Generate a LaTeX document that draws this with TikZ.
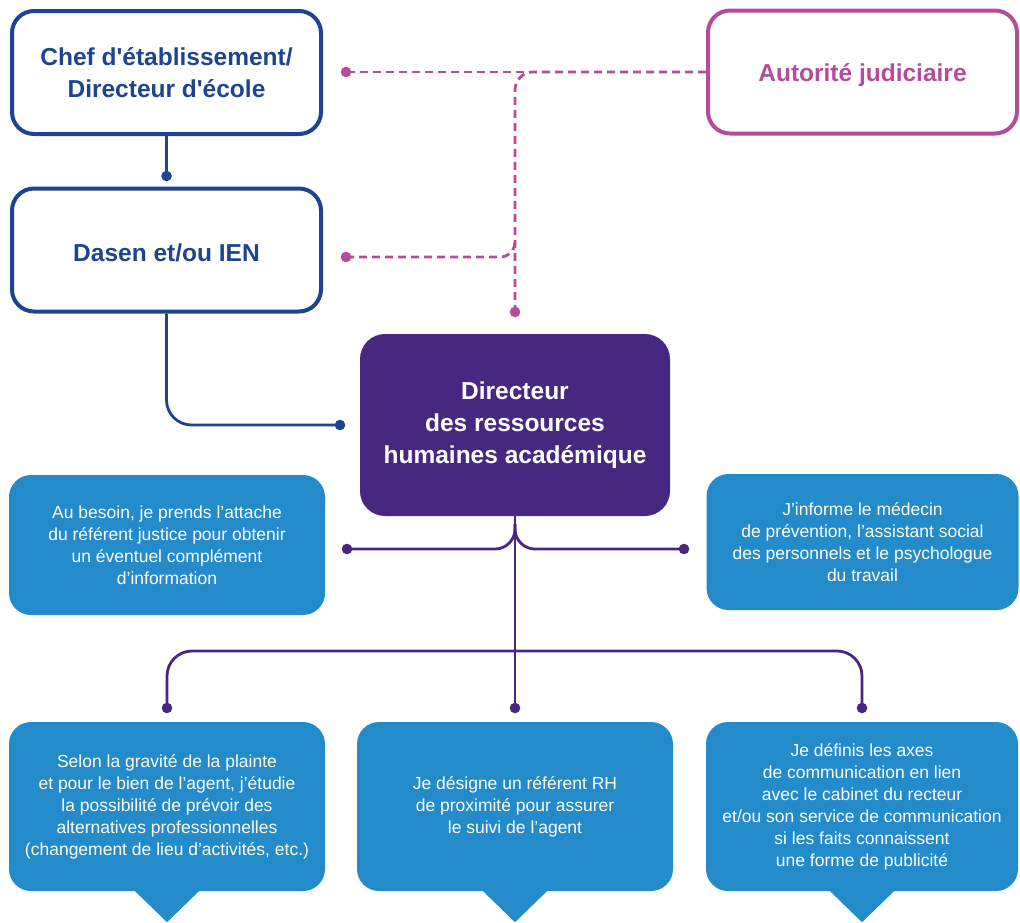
\documentclass[tikz,border=0pt]{standalone}
\usepackage{fontspec}
\setmainfont{Liberation Sans}[Ligatures=TeXOff]
\definecolor{marine}{RGB}{30,68,143}
\definecolor{rose}{RGB}{180,76,153}
\definecolor{pourpre}{RGB}{72,39,128}
\definecolor{bleu}{RGB}{35,139,202}
\begin{document}
\begin{tikzpicture}[x=1pt,y=-1pt]
\tikzstyle{every node}+=[inner sep=0pt, align=center]
\tikzstyle{cadre}=[draw, line width=4pt, rounded corners=22pt, fill=white, minimum width=309pt, minimum height=123pt, font=\fontsize{24.5}{32}\selectfont\bfseries]
\tikzstyle{pave}=[fill=bleu, text=white, rounded corners=22pt, font=\fontsize{17.5}{22}\selectfont]
\tikzstyle{lien}=[line width=2.8pt]
\tikzstyle{pointille}=[lien, rose, dash pattern=on 8pt off 5pt]
\useasboundingbox (0,0) rectangle (1020,922);
\node (chef) at (166.5,72.5) [cadre, draw=marine, text=marine] {Chef d'établissement/\\Directeur d'école};
\node (dasen) at (166.5,250) [cadre, draw=marine, text=marine] {\raisebox{-3pt}[\height][\depth]{Dasen et/ou IEN}};
\node (autorite) at (862.5,72) [cadre, draw=rose, text=rose] {\raisebox{-3pt}[\height][\depth]{Autorité judiciaire}};
\node (drh) at (515,425) [fill=pourpre, text=white, rounded corners=25pt, minimum width=310pt, minimum height=182pt, font=\fontsize{24.5}{32}\selectfont\bfseries] {Directeur\\des ressources\\humaines académique};
\node (besoin) at (167,545) [pave, minimum width=316pt, minimum height=140pt] {Au besoin, je prends l’attache\\du référent justice pour obtenir\\un éventuel complément\\d’information};
\node (informe) at (862.5,542) [pave, minimum width=312pt, minimum height=136pt] {J’informe le médecin\\de prévention, l’assistant social\\des personnels et le psychologue\\du travail};
\node (selon) at (167,806.5) [pave, minimum width=316pt, minimum height=169pt] {Selon la gravité de la plainte\\et pour le bien de l’agent, j’étudie\\la possibilité de prévoir des\\alternatives professionnelles\\(changement de lieu d’activités, etc.)};
\node (designe) at (515,806.5) [pave, minimum width=316pt, minimum height=169pt] {Je désigne un référent RH\\de proximité pour assurer\\le suivi de l’agent};
\node (definis) at (862,806.5) [pave, minimum width=312pt, minimum height=169pt] {Je définis les axes\\de communication en lien\\avec le cabinet du recteur\\et/ou son service de communication\\si les faits connaissent\\une forme de publicité};
\foreach \n in {selon,designe,definis}
  \fill [bleu] ([xshift=-33pt,yshift=1pt]\n.south) -- ([yshift=-31pt]\n.south) -- ([xshift=33pt,yshift=1pt]\n.south) -- cycle;
\coordinate (p1) at (166.5,176);
\coordinate (p2) at (340,425);
\draw [lien, marine] (chef.south) -- (p1);
\draw [lien, marine, rounded corners=25pt] (dasen.south) |- (p2);
\fill [marine] (p1) circle (5.3pt) (p2) circle (5.3pt);
\coordinate (m1) at (346,72);
\coordinate (m2) at (346,257);
\coordinate (m3) at (515,312);
\coordinate (m4) at (515,238);
\draw [pointille] (autorite.west) -- (m1);
\draw [pointille, rounded corners=18pt] (autorite.west) -| (m3);
\draw [pointille, rounded corners=15pt] (m2) -| (m4);
\fill [rose] (m1) circle (5.3pt) (m2) circle (5.3pt) (m3) circle (5.3pt);
\coordinate (q0) at (515,708);
\coordinate (g) at (347,549);
\coordinate (d) at (684,549);
\coordinate (bt) at (515,524);
\coordinate (hg) at (167,651);
\coordinate (hd) at (862,651);
\coordinate (qg) at (167,708);
\coordinate (qd) at (862,708);
\draw [lien, pourpre] (drh.south) -- (q0);
\draw [lien, pourpre, rounded corners=20pt] (g) -| (bt);
\draw [lien, pourpre, rounded corners=20pt] (d) -| (bt);
\draw [lien, pourpre, rounded corners=25pt] (qg) -- (hg) -- (hd) -- (qd);
\foreach \c in {g,d,q0,qg,qd}
  \fill [pourpre] (\c) circle (5.3pt);
\end{tikzpicture}
\end{document}
